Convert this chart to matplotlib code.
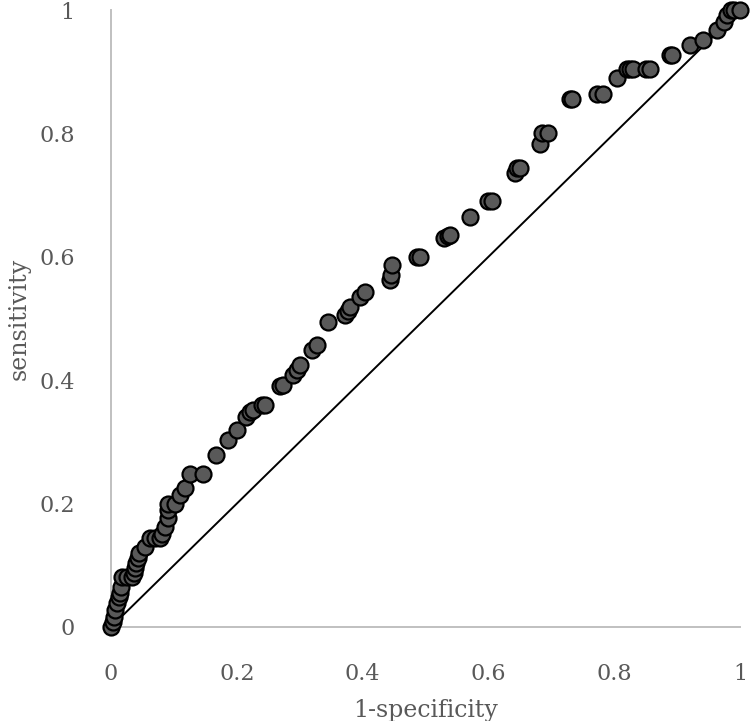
import matplotlib.pyplot as plt

# ROC points
fpr = [0.0, 0.003, 0.005, 0.007, 0.010, 0.012, 0.014, 0.016, 0.017, 0.025, 0.033,
       0.036, 0.038, 0.040, 0.043, 0.045, 0.054, 0.062, 0.070, 0.078, 0.081, 0.086,
       0.091, 0.091, 0.091, 0.102, 0.110, 0.118, 0.126, 0.146, 0.167, 0.186, 0.200,
       0.215, 0.221, 0.225, 0.240, 0.245, 0.269, 0.274, 0.289, 0.296, 0.300, 0.320,
       0.327, 0.345, 0.372, 0.376, 0.380, 0.396, 0.404, 0.443, 0.445, 0.447, 0.487,
       0.491, 0.530, 0.535, 0.539, 0.570, 0.600, 0.606, 0.642, 0.646, 0.650, 0.682,
       0.685, 0.695, 0.730, 0.733, 0.773, 0.782, 0.804, 0.820, 0.825, 0.830, 0.850,
       0.857, 0.888, 0.892, 0.920, 0.941, 0.963, 0.975, 0.979, 0.985, 0.990, 1.0]
tpr = [0.0, 0.008, 0.016, 0.028, 0.039, 0.048, 0.055, 0.065, 0.081, 0.081, 0.081,
       0.088, 0.096, 0.104, 0.112, 0.120, 0.130, 0.144, 0.144, 0.144, 0.150, 0.162,
       0.177, 0.190, 0.200, 0.200, 0.214, 0.225, 0.248, 0.248, 0.279, 0.303, 0.319,
       0.340, 0.348, 0.352, 0.360, 0.360, 0.391, 0.392, 0.408, 0.416, 0.425, 0.449,
       0.457, 0.494, 0.506, 0.512, 0.519, 0.535, 0.543, 0.562, 0.570, 0.587, 0.600,
       0.600, 0.630, 0.633, 0.635, 0.665, 0.690, 0.690, 0.736, 0.744, 0.744, 0.783,
       0.800, 0.800, 0.856, 0.856, 0.864, 0.864, 0.890, 0.904, 0.904, 0.904, 0.904,
       0.904, 0.927, 0.927, 0.943, 0.951, 0.968, 0.980, 0.992, 1.0, 1.0, 1.0]
ticks = [0, 0.2, 0.4, 0.6, 0.8, 1]
tick_labels = ["0", "0.2", "0.4", "0.6", "0.8", "1"]

plt.rcParams['font.family'] = ['DejaVu Serif']
fig = plt.figure(figsize=(7.5, 7.21), dpi=100)
ax = fig.add_axes([0.148, 0.1304, 0.8387, 0.8557])

ax.plot([0, 1], [0, 1], color="black", lw=1.4, zorder=2)
ax.plot(fpr, tpr, "o", ms=11.5, mfc="#595959", mec="black", mew=1.6,
        clip_on=False, zorder=3)

ax.set_xlim(0, 1)
ax.set_ylim(0, 1)
ax.set_xticks(ticks)
ax.set_xticklabels(tick_labels)
ax.set_yticks(ticks)
ax.set_yticklabels(tick_labels)
ax.tick_params(length=0, labelsize=16, colors="#595959", pad=26)

for s in ["top", "right"]:
    ax.spines[s].set_visible(False)
for s in ["left", "bottom"]:
    ax.spines[s].set_color("#c0c0c0")
    ax.spines[s].set_linewidth(1.4)

ax.set_xlabel("1-specificity", fontsize=17, color="#595959", labelpad=10)
ax.set_ylabel("sensitivity", fontsize=17, color="#595959", labelpad=6)

fig.savefig("out.png", dpi=100)
